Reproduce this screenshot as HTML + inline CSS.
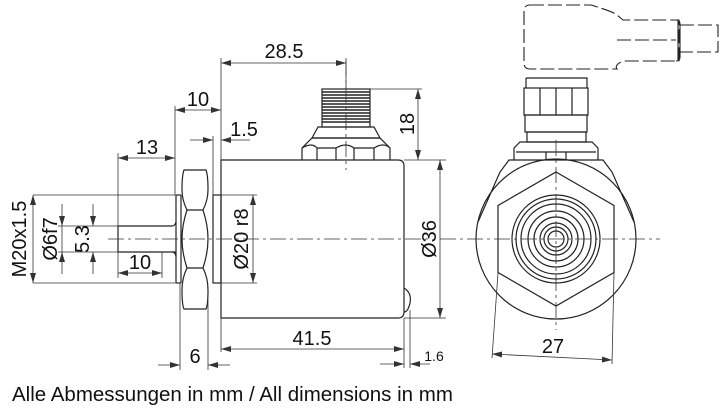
<!DOCTYPE html>
<html><head><meta charset="utf-8"><style>
body{margin:0;background:#fff}
svg{display:block}
text{font-family:"Liberation Sans",sans-serif;fill:#111}
</style></head><body>
<svg width="723" height="411" viewBox="0 0 723 411" xmlns="http://www.w3.org/2000/svg">
<defs>
<marker id="a" viewBox="0 0 10 6" refX="10" refY="3" markerWidth="10" markerHeight="6" orient="auto-start-reverse" markerUnits="userSpaceOnUse"><path d="M0,0 L10,3 L0,6z" fill="#333"/></marker>
</defs>
<g stroke="#222" fill="none" stroke-width="1.2">
<path d="M221,160 H398 Q404,160 404,166 V312 Q404,318 398,318 H221 Z"/>
<path d="M404,288 Q412,293 410,303 Q408,312 404,312"/>
<rect x="213" y="195" width="8" height="88"/>
<path d="M184,170 Q182,175 182,190 Q182,200 187,210 Q182,225 182,239 Q182,253 187,268 Q182,278 182,290 Q182,305 184,309 H206 Q208,305 208,290 Q208,278 203,268 Q208,253 208,239 Q208,225 203,210 Q208,200 208,190 Q208,175 206,170 Z"/>
<path d="M187,210 H203 M187,268 H203"/>
<rect x="176" y="195" width="5" height="88" rx="1"/>
<path d="M118,226 H172 Q175,226 176,222 M118,226 V252 M118,252 H176 M176,256 Q175,252 172,252"/>
<rect x="322" y="89" width="48" height="38"/>
<path stroke-width="1.6" d="M322,92 H370 M322,95 H370 M322,98 H370 M322,101 H370 M322,104 H370 M322,107 H370 M322,110 H370 M322,113 H370 M322,116 H370 M322,119 H370 M322,122 H370"/>
<path d="M318,127 H374 L380,138 H312 Z"/>
<path d="M302,160 V148 L312,138 H380 L390,148 V160"/>
<path d="M317,148 H336 M354,148 H374 M317,160 V148 M336,160 V148 M354,160 V148 M374,160 V148 M302,148 Q312,142 317,148 M336,148 Q346,142 354,148 M374,148 Q384,142 390,148"/>
<circle cx="556" cy="239" r="80"/>
<path d="M478,222 L500,172 L509,160 H603 L612,172 L634,222"/>
<polygon points="556,172 614,205.5 614,272.5 556,306 498,272.5 498,205.5"/>
<circle cx="556" cy="239" r="44"/>
<circle cx="556" cy="239" r="40"/>
<circle cx="556" cy="239" r="35"/>
<circle cx="556" cy="239" r="28"/>
<circle cx="556" cy="239" r="22"/>
<circle cx="556" cy="239" r="16"/>
<circle cx="556" cy="239" r="12"/>
<circle cx="556" cy="239" r="8"/>
<path d="M514,160 V148 L520,142 H592 L598,148 V160 M516,152 H596 M546,152 V160 M566,152 V160"/>
<rect x="527" y="132" width="59" height="10"/>
<rect x="525" y="115" width="62" height="17"/>
<rect x="524" y="88" width="64" height="27"/>
<path d="M556,88 V115 M540,88 V115 M572,88 V115 M526,78 H587 V88 M526,78 V88"/>
</g>
<g stroke="#222" fill="none" stroke-width="1.1" stroke-dasharray="14,4">
<path d="M530,5 H591 Q614,12 617,15 L623,20 H676 L679,20 V61 H623 Q614,65 617,69 H530 Q524,69 524,63 V11 Q524,5 530,5Z"/>
<path d="M617,40 H676"/>
<path d="M680,25 H718 V52 H680"/>
</g>
<g stroke="#222" fill="none" stroke-width="1.1"><path d="M676,20 Q680,20 680,24 V57 Q680,61 676,61 M678,20 V61"/></g>
<g stroke="#333" stroke-width="0.8" fill="none" stroke-dasharray="16,4,3,4">
<path d="M108,239 H430"/>
<path d="M346,60 V170"/>
<path d="M440,239 H660"/>
<path d="M556,140 V330"/>
</g>
<g stroke="#333" stroke-width="0.8" fill="none">
<path d="M221,160 V58 M346,58 V89"/>
<path d="M221,63 H346" marker-start="url(#a)" marker-end="url(#a)"/>
<path d="M175,195 V106"/>
<path d="M175,110 H221" marker-start="url(#a)" marker-end="url(#a)"/>
<path d="M213,195 V136"/>
<path d="M190,140 H213" marker-end="url(#a)"/><path d="M250,140 H221" marker-end="url(#a)"/>
<path d="M118,226 V153"/>
<path d="M118,158 H175" marker-start="url(#a)" marker-end="url(#a)"/>
<path d="M370,89 H422 M404,160 H446 M404,318 H446"/>
<path d="M418,89 V160" marker-start="url(#a)" marker-end="url(#a)"/>
<path d="M440,160 V318" marker-start="url(#a)" marker-end="url(#a)"/>
<path d="M221,195 H257 M221,283 H257"/>
<path d="M253,195 V283" marker-start="url(#a)" marker-end="url(#a)"/>
<path d="M221,318 V352 M404,318 V368 M410,310 V368"/>
<path d="M221,349 H404" marker-start="url(#a)" marker-end="url(#a)"/>
<path d="M380,364 H404" marker-end="url(#a)"/><path d="M430,364 H410" marker-end="url(#a)"/>
<path d="M180,283 V370 M208,300 V370"/>
<path d="M158,365 H180" marker-end="url(#a)"/><path d="M230,365 H208" marker-end="url(#a)"/>
<path d="M33,195 H180 M33,283 H180"/>
<path d="M33,195 V283" marker-start="url(#a)" marker-end="url(#a)"/>
<path d="M58,226 H118 M58,252 H118"/>
<path d="M62,204 V226" marker-end="url(#a)"/><path d="M62,274 V252" marker-end="url(#a)"/>
<path d="M62,226 V252"/>
<path d="M93,204 V226" marker-end="url(#a)"/><path d="M93,274 V252" marker-end="url(#a)"/>
<path d="M162,252 V278 M118,252 V278"/>
<path d="M118,273 H162" marker-start="url(#a)" marker-end="url(#a)"/>
<path d="M498,273 L492,358 M614,273 L612,364"/>
<path d="M492,354 L612,360" marker-start="url(#a)" marker-end="url(#a)"/>
</g>
<g font-size="20">
<text x="284" y="58" text-anchor="middle">28.5</text>
<text x="198" y="106" text-anchor="middle">10</text>
<text x="244" y="136" text-anchor="middle">1.5</text>
<text x="147" y="154" text-anchor="middle">13</text>
<text x="140" y="269" text-anchor="middle">10</text>
<text x="312" y="345" text-anchor="middle">41.5</text>
<text x="195" y="363" text-anchor="middle">6</text>
<text x="553" y="353" text-anchor="middle">27</text>
<text font-size="14" x="434" y="361" text-anchor="middle">1.6</text>
<text transform="translate(414,124) rotate(-90)" text-anchor="middle">18</text>
<text transform="translate(436,239) rotate(-90)" text-anchor="middle">Ø36</text>
<text transform="translate(248,239) rotate(-90)" text-anchor="middle">Ø20 r8</text>
<text transform="translate(26,239) rotate(-90)" text-anchor="middle">M20x1.5</text>
<text transform="translate(57,239) rotate(-90)" text-anchor="middle">Ø6f7</text>
<text transform="translate(89,239) rotate(-90)" text-anchor="middle">5.3</text>
<text x="12" y="401" font-size="20.5">Alle Abmessungen in mm / All dimensions in mm</text>
</g>
</svg>
</body></html>
